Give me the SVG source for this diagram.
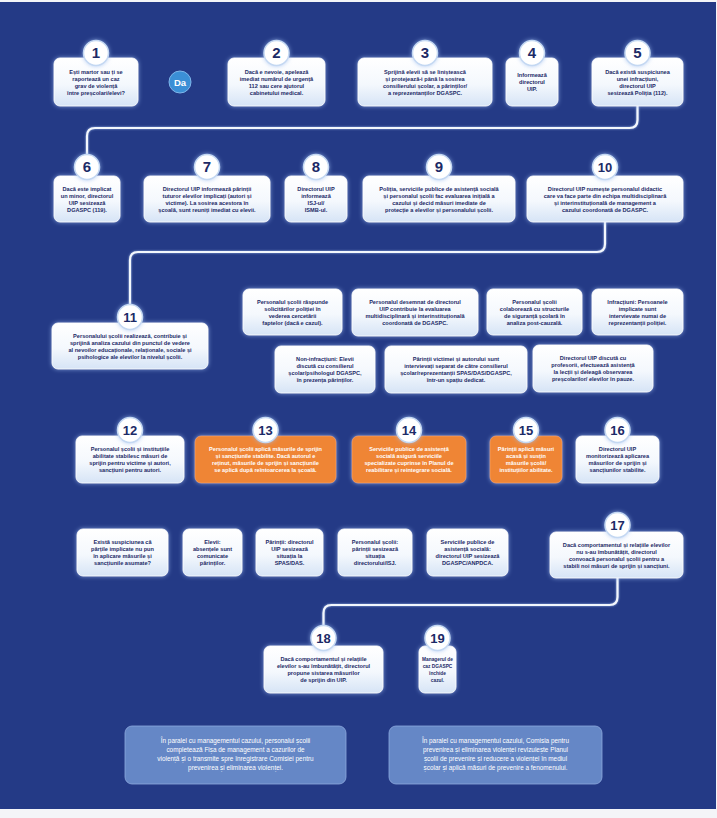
<svg xmlns="http://www.w3.org/2000/svg" width="717" height="818" viewBox="0 0 717 818">
<defs>
<linearGradient id="wg" x1="0" y1="0" x2="0" y2="1">
<stop offset="0" stop-color="#ffffff"/>
<stop offset="0.55" stop-color="#f4f8fd"/>
<stop offset="1" stop-color="#d6e4f6"/>
</linearGradient>
<filter id="glow" x="-20%" y="-30%" width="140%" height="160%">
<feDropShadow dx="0" dy="0" stdDeviation="2" flood-color="#9dbdf0" flood-opacity="0.75"/>
</filter>
<filter id="lglow" x="-5%" y="-5%" width="110%" height="110%">
<feDropShadow dx="0" dy="0" stdDeviation="1.2" flood-color="#a9c6f2" flood-opacity="0.8"/>
</filter>
</defs>
<style>
.t{font-family:"Liberation Sans",Arial,sans-serif;font-size:5.6px;font-weight:bold;fill:#1c2a66;text-anchor:middle}
.tw{fill:#ffffff}
.tb{font-family:"Liberation Sans",Arial,sans-serif;font-size:6.4px;fill:#ffffff;text-anchor:middle}
.num{font-family:"Liberation Sans",Arial,sans-serif;font-size:15px;font-weight:bold;fill:#1c2a66;text-anchor:middle}
.box{fill:url(#wg);stroke:#ffffff;stroke-width:0.8;filter:url(#glow)}
.obox{fill:#ef8535;stroke:#f7a868;stroke-width:0.6;filter:url(#glow)}
.bbox{fill:#6587c6;stroke:#8eaade;stroke-width:0.8}
.nc{fill:#ffffff;stroke:#c4d8f2;stroke-width:1.5;filter:url(#glow)}
.ln{stroke:#f3f7fd;stroke-width:2.2;fill:none;filter:url(#lglow)}
</style>
<rect x="0" y="0" width="717" height="818" fill="#f4f5f8"/>
<rect x="0" y="2" width="716" height="807" fill="#243a86"/>

<g id="connectors">
<path class="ln" d="M138,82 H169 M191,82 H228 M325,82 H358 M492,82 H506 M558,82 H592"/>
<path class="ln" d="M637.5,106 V120 Q637.5,128 629.5,128 H95 Q87,128 87,136 V160"/>
<path class="ln" d="M120,199 H144 M270,199 H285 M347,199 H363 M515,199 H527"/>
<path class="ln" d="M605,222 V244 Q605,252 597,252 H138 Q130,252 130,260 V310"/>
<path class="ln" d="M130,369 V424"/>
<path class="ln" d="M184,460 H195 M336,460 H352 M466,460 H490 M562,460 H576"/>
<path class="ln" d="M617.5,483 V518"/>
<path class="ln" d="M617.5,578 V597 Q617.5,605 609.5,605 H331.5 Q323.5,605 323.5,613 V632"/>
<path class="ln" d="M383,671 H419"/>
</g>

<g id="da">
<circle cx="180" cy="82" r="11" fill="#3b8fd6" stroke="#7fb6ea" stroke-width="1"/>
<text x="180" y="85.5" style="font-family:'Liberation Sans',Arial,sans-serif;font-size:9.5px;font-weight:bold;fill:#ffffff;text-anchor:middle">Da</text>
</g>

<g id="n1">
<rect class="box" x="54" y="58" width="84" height="48" rx="6"/>
<text class="t"><tspan x="96" y="73.6">Ești martor sau ți se</tspan><tspan x="96" y="80.6">raportează un caz</tspan><tspan x="96" y="87.6">grav de violență</tspan><tspan x="96" y="94.6">între preșcolari/elevi?</tspan></text>
<circle class="nc" cx="96" cy="53" r="12.5"/><text class="num" x="96" y="58.4">1</text>
</g>
<g id="n2">
<rect class="box" x="228" y="58" width="97" height="48" rx="6"/>
<text class="t"><tspan x="276.5" y="73.6">Dacă e nevoie, apelează</tspan><tspan x="276.5" y="80.6">imediat numărul de urgență</tspan><tspan x="276.5" y="87.6">112 sau cere ajutorul</tspan><tspan x="276.5" y="94.6">cabinetului medical.</tspan></text>
<circle class="nc" cx="276.5" cy="53" r="12.5"/><text class="num" x="276.5" y="58.4">2</text>
</g>
<g id="n3">
<rect class="box" x="358" y="58" width="134" height="48" rx="6"/>
<text class="t"><tspan x="425" y="73.6">Sprijină elevii să se liniștească</tspan><tspan x="425" y="80.6">și protejează-i până la sosirea</tspan><tspan x="425" y="87.6">consilierului școlar, a părinților/</tspan><tspan x="425" y="94.6">a reprezentanților DGASPC.</tspan></text>
<circle class="nc" cx="425" cy="53" r="12.5"/><text class="num" x="425" y="58.4">3</text>
</g>
<g id="n4">
<rect class="box" x="506" y="58" width="52" height="48" rx="6"/>
<text class="t"><tspan x="532" y="77.1">Informează</tspan><tspan x="532" y="84.1">directorul</tspan><tspan x="532" y="91.1">UIP.</tspan></text>
<circle class="nc" cx="532" cy="53" r="12.5"/><text class="num" x="532" y="58.4">4</text>
</g>
<g id="n5">
<rect class="box" x="592" y="58" width="91" height="48" rx="6"/>
<text class="t"><tspan x="637.5" y="73.6">Dacă există suspiciunea</tspan><tspan x="637.5" y="80.6">unei infracțiuni,</tspan><tspan x="637.5" y="87.6">directorul UIP</tspan><tspan x="637.5" y="94.6">sesizează Poliția (112).</tspan></text>
<circle class="nc" cx="637.5" cy="53" r="12.5"/><text class="num" x="637.5" y="58.4">5</text>
</g>

<g id="n6">
<rect class="box" x="54" y="176" width="66" height="46" rx="6"/>
<text class="t"><tspan x="87" y="190.6">Dacă este implicat</tspan><tspan x="87" y="197.6">un minor, directorul</tspan><tspan x="87" y="204.6">UIP sesizează</tspan><tspan x="87" y="211.6">DGASPC (119).</tspan></text>
<circle class="nc" cx="87" cy="167" r="12.5"/><text class="num" x="87" y="172.4">6</text>
</g>
<g id="n7">
<rect class="box" x="144" y="176" width="126" height="46" rx="6"/>
<text class="t"><tspan x="207" y="190.6">Directorul UIP informează părinții</tspan><tspan x="207" y="197.6">tuturor elevilor implicați (autori și</tspan><tspan x="207" y="204.6">victime). La sosirea acestora în</tspan><tspan x="207" y="211.6">școală, sunt reuniți imediat cu elevii.</tspan></text>
<circle class="nc" cx="207" cy="167" r="12.5"/><text class="num" x="207" y="172.4">7</text>
</g>
<g id="n8">
<rect class="box" x="285" y="176" width="62" height="46" rx="6"/>
<text class="t"><tspan x="316" y="190.6">Directorul UIP</tspan><tspan x="316" y="197.6">informează</tspan><tspan x="316" y="204.6">ISJ-ul/</tspan><tspan x="316" y="211.6">ISMB-ul.</tspan></text>
<circle class="nc" cx="316" cy="167" r="12.5"/><text class="num" x="316" y="172.4">8</text>
</g>
<g id="n9">
<rect class="box" x="363" y="176" width="152" height="46" rx="6"/>
<text class="t"><tspan x="439" y="190.6">Poliția, serviciile publice de asistență socială</tspan><tspan x="439" y="197.6">și personalul școlii fac evaluarea inițială a</tspan><tspan x="439" y="204.6">cazului și decid măsuri imediate de</tspan><tspan x="439" y="211.6">protecție a elevilor și personalului școlii.</tspan></text>
<circle class="nc" cx="439" cy="167" r="12.5"/><text class="num" x="439" y="172.4">9</text>
</g>
<g id="n10">
<rect class="box" x="527" y="176" width="156" height="46" rx="6"/>
<text class="t"><tspan x="605" y="190.6">Directorul UIP numește personalul didactic</tspan><tspan x="605" y="197.6">care va face parte din echipa multidisciplinară</tspan><tspan x="605" y="204.6">și interinstituțională de management a</tspan><tspan x="605" y="211.6">cazului coordonată de DGASPC.</tspan></text>
<circle class="nc" cx="605" cy="167" r="12.5"/><text class="num" x="605" y="172" style="font-size:13px">10</text>
</g>

<g id="n11">
<rect class="box" x="52" y="323" width="156" height="46" rx="6"/>
<text class="t"><tspan x="130" y="337.6">Personalului școlii realizează, contribuie și</tspan><tspan x="130" y="344.6">sprijină analiza cazului din punctul de vedere</tspan><tspan x="130" y="351.6">al nevoilor educaționale, relaționale, sociale și</tspan><tspan x="130" y="358.6">psihologice ale elevilor la nivelul școlii.</tspan></text>
<circle class="nc" cx="130" cy="317" r="12.5"/><text class="num" x="130" y="322" style="font-size:13px">11</text>
</g>
<g id="sA">
<rect class="box" x="243" y="289" width="99" height="46" rx="6"/>
<text class="t"><tspan x="292.5" y="303.6">Personalul școlii răspunde</tspan><tspan x="292.5" y="310.6">solicitărilor poliției în</tspan><tspan x="292.5" y="317.6">vederea cercetării</tspan><tspan x="292.5" y="324.6">faptelor (dacă e cazul).</tspan></text>
</g>
<g id="sB">
<rect class="box" x="352" y="289" width="126" height="47" rx="6"/>
<text class="t"><tspan x="415" y="303.6">Personalul desemnat de directorul</tspan><tspan x="415" y="310.6">UIP contribuie la evaluarea</tspan><tspan x="415" y="317.6">multidisciplinară și interinstituțională</tspan><tspan x="415" y="324.6">coordonată de DGASPC.</tspan></text>
</g>
<g id="sC">
<rect class="box" x="487" y="289" width="95" height="46" rx="6"/>
<text class="t"><tspan x="534.5" y="303.6">Personalul școlii</tspan><tspan x="534.5" y="310.6">colaborează cu structurile</tspan><tspan x="534.5" y="317.6">de siguranță școlară în</tspan><tspan x="534.5" y="324.6">analiza post-cauzală.</tspan></text>
</g>
<g id="sD">
<rect class="box" x="592" y="289" width="91" height="46" rx="6"/>
<text class="t"><tspan x="637.5" y="303.6">Infracțiuni: Persoanele</tspan><tspan x="637.5" y="310.6">implicate sunt</tspan><tspan x="637.5" y="317.6">intervievate numai de</tspan><tspan x="637.5" y="324.6">reprezentanții poliției.</tspan></text>
</g>
<g id="sE">
<rect class="box" x="275" y="346" width="100" height="47" rx="6"/>
<text class="t"><tspan x="325" y="361.1">Non-infracțiuni: Elevii</tspan><tspan x="325" y="368.1">discută cu consilierul</tspan><tspan x="325" y="375.1">școlar/psihologul DGASPC,</tspan><tspan x="325" y="382.1">în prezența părinților.</tspan></text>
</g>
<g id="sF">
<rect class="box" x="385" y="346" width="142" height="47" rx="6"/>
<text class="t"><tspan x="456" y="361.1">Părinții victimei și autorului sunt</tspan><tspan x="456" y="368.1">intervievați separat de către consilierul</tspan><tspan x="456" y="375.1">școlar/reprezentanții SPAS/DAS/DGASPC,</tspan><tspan x="456" y="382.1">într-un spațiu dedicat.</tspan></text>
</g>
<g id="sG">
<rect class="box" x="533" y="345" width="120" height="47" rx="6"/>
<text class="t"><tspan x="593" y="360.1">Directorul UIP discută cu</tspan><tspan x="593" y="367.1">profesorii,  efectuează asistență</tspan><tspan x="593" y="374.1">la lecții și deleagă observarea</tspan><tspan x="593" y="381.1">preșcolarilor/ elevilor în pauze.</tspan></text>
</g>

<g id="n12">
<rect class="box" x="76" y="436" width="108" height="47" rx="6"/>
<text class="t"><tspan x="130" y="451.1">Personalul școlii și instituțiile</tspan><tspan x="130" y="458.1">abilitate stabilesc măsuri de</tspan><tspan x="130" y="465.1">sprijin pentru victime și autori,</tspan><tspan x="130" y="472.1">sancțiuni pentru autori.</tspan></text>
<circle class="nc" cx="130" cy="430" r="12.5"/><text class="num" x="130" y="435" style="font-size:13px">12</text>
</g>
<g id="n13">
<rect class="obox" x="195" y="436" width="141" height="47" rx="6"/>
<text class="t tw"><tspan x="265.5" y="451.1">Personalul școlii aplică măsurile de sprijin</tspan><tspan x="265.5" y="458.1">și sancțiunile stabilite. Dacă autorul e</tspan><tspan x="265.5" y="465.1">reținut, măsurile de sprijin și sancțiunile</tspan><tspan x="265.5" y="472.1">se aplică după reîntoarcerea la școală.</tspan></text>
<circle class="nc" cx="265.5" cy="430" r="12.5"/><text class="num" x="265.5" y="435" style="font-size:13px">13</text>
</g>
<g id="n14">
<rect class="obox" x="352" y="436" width="114" height="47" rx="6"/>
<text class="t tw"><tspan x="409" y="451.1">Serviciile publice de asistență</tspan><tspan x="409" y="458.1">socială asigură serviciile</tspan><tspan x="409" y="465.1">specializate cuprinse în Planul de</tspan><tspan x="409" y="472.1">reabilitare și reintegrare socială.</tspan></text>
<circle class="nc" cx="409" cy="430" r="12.5"/><text class="num" x="409" y="435" style="font-size:13px">14</text>
</g>
<g id="n15">
<rect class="obox" x="490" y="436" width="72" height="47" rx="6"/>
<text class="t tw"><tspan x="526" y="451.1">Părinții aplică măsuri</tspan><tspan x="526" y="458.1">acasă și susțin</tspan><tspan x="526" y="465.1">măsurile școlii/</tspan><tspan x="526" y="472.1">instituțiilor abilitate.</tspan></text>
<circle class="nc" cx="526" cy="430" r="12.5"/><text class="num" x="526" y="435" style="font-size:13px">15</text>
</g>
<g id="n16">
<rect class="box" x="576" y="436" width="83" height="47" rx="6"/>
<text class="t"><tspan x="617.5" y="451.1">Directorul UIP</tspan><tspan x="617.5" y="458.1">monitorizează aplicarea</tspan><tspan x="617.5" y="465.1">măsurilor de sprijin și</tspan><tspan x="617.5" y="472.1">sancțiunilor stabilite.</tspan></text>
<circle class="nc" cx="617.5" cy="430" r="12.5"/><text class="num" x="617.5" y="435" style="font-size:13px">16</text>
</g>

<g id="sH">
<rect class="box" x="77" y="529" width="91" height="47" rx="6"/>
<text class="t"><tspan x="122.5" y="544.1">Există suspiciunea că</tspan><tspan x="122.5" y="551.1">părțile implicate nu pun</tspan><tspan x="122.5" y="558.1">în aplicare măsurile și</tspan><tspan x="122.5" y="565.1">sancțiunile asumate?</tspan></text>
</g>
<g id="sI">
<rect class="box" x="183" y="529" width="59" height="47" rx="6"/>
<text class="t"><tspan x="212.5" y="544.1">Elevii:</tspan><tspan x="212.5" y="551.1">absențele sunt</tspan><tspan x="212.5" y="558.1">comunicate</tspan><tspan x="212.5" y="565.1">părinților.</tspan></text>
</g>
<g id="sJ">
<rect class="box" x="256" y="529" width="67" height="47" rx="6"/>
<text class="t"><tspan x="289.5" y="544.1">Părinții: directorul</tspan><tspan x="289.5" y="551.1">UIP sesizează</tspan><tspan x="289.5" y="558.1">situația la</tspan><tspan x="289.5" y="565.1">SPAS/DAS.</tspan></text>
</g>
<g id="sK">
<rect class="box" x="338" y="529" width="74" height="47" rx="6"/>
<text class="t"><tspan x="375" y="544.1">Personalul școlii:</tspan><tspan x="375" y="551.1">părinții sesizează</tspan><tspan x="375" y="558.1">situația</tspan><tspan x="375" y="565.1">directorului/ISJ.</tspan></text>
</g>
<g id="sL">
<rect class="box" x="427" y="529" width="81" height="47" rx="6"/>
<text class="t"><tspan x="467.5" y="544.1">Serviciile publice de</tspan><tspan x="467.5" y="551.1">asistență socială:</tspan><tspan x="467.5" y="558.1">directorul UIP sesizează</tspan><tspan x="467.5" y="565.1">DGASPC/ANPDCA.</tspan></text>
</g>
<g id="n17">
<rect class="box" x="550" y="532" width="133" height="46" rx="6"/>
<text class="t"><tspan x="616.5" y="546.6">Dacă comportamentul și relațiile elevilor</tspan><tspan x="616.5" y="553.6">nu s-au îmbunătățit, directorul</tspan><tspan x="616.5" y="560.6">convoacă personalul școlii pentru a</tspan><tspan x="616.5" y="567.6">stabili noi măsuri de sprijin și sancțiuni.</tspan></text>
<circle class="nc" cx="617.5" cy="525" r="12.5"/><text class="num" x="617.5" y="530" style="font-size:13px">17</text>
</g>

<g id="n18">
<rect class="box" x="264" y="646" width="119" height="47" rx="6"/>
<text class="t"><tspan x="323.5" y="661.1">Dacă comportamentul și relațiile</tspan><tspan x="323.5" y="668.1">elevilor s-au îmbunătățit, directorul</tspan><tspan x="323.5" y="675.1">propune sistarea măsurilor</tspan><tspan x="323.5" y="682.1">de sprijin din UIP.</tspan></text>
<circle class="nc" cx="323.5" cy="638" r="12.5"/><text class="num" x="323.5" y="643" style="font-size:13px">18</text>
</g>
<g id="n19">
<rect class="box" x="419" y="646" width="37" height="47" rx="6"/>
<text class="t" style="font-size:4.8px"><tspan x="437.5" y="661.1">Managerul de</tspan><tspan x="437.5" y="668.1">caz DGASPC</tspan><tspan x="437.5" y="675.1">închide</tspan><tspan x="437.5" y="682.1">cazul.</tspan></text>
<circle class="nc" cx="437.5" cy="638" r="12.5"/><text class="num" x="437.5" y="643" style="font-size:13px">19</text>
</g>

<g id="bM">
<rect class="bbox" x="125" y="726" width="221" height="58" rx="7"/>
<text class="tb"><tspan x="235.5" y="743.3">În paralel cu managementul cazului, personalul școlii</tspan><tspan x="235.5" y="752.3">completează Fișa de management a cazurilor de</tspan><tspan x="235.5" y="761.3">violență și o transmite spre înregistrare Comisiei pentru</tspan><tspan x="235.5" y="770.3">prevenirea și eliminarea violenței.</tspan></text>
</g>
<g id="bN">
<rect class="bbox" x="389" y="726" width="213" height="58" rx="7"/>
<text class="tb"><tspan x="495.5" y="743.3">În paralel cu managementul cazului, Comisia pentru</tspan><tspan x="495.5" y="752.3">prevenirea și eliminarea violenței revizuiește Planul</tspan><tspan x="495.5" y="761.3">școlii de prevenire și reducere a violenței în mediul</tspan><tspan x="495.5" y="770.3">școlar și aplică măsuri de prevenire a fenomenului.</tspan></text>
</g>
</svg>
